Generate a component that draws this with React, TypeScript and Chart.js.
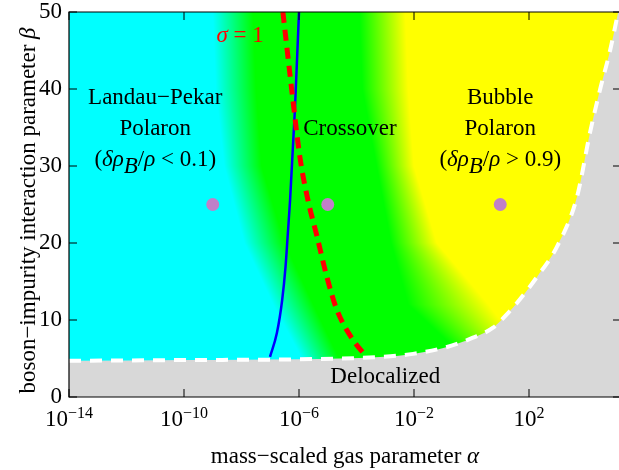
import React, { useEffect, useRef } from 'react';
import { Chart, registerables } from 'chart.js';

Chart.register(...registerables);

// ---------- axes ----------
const X_MIN = 1e-14;
const X_MAX = 158489; // ~10^5.2, right edge of the plot (cut off by the picture edge)
const Y_MIN = 0;
const Y_MAX = 50;
const xTickExponents = [-14, -10, -6, -2, 2];
const yTicks = [0, 10, 20, 30, 40, 50];

// ---------- delocalization boundary (white dashed, grey below) ----------
const boundaryAlpha = [1e-14, 1e-10, 1e-6, 6.6e-4, 9.3e-3, 0.141, 1.12, 5.62, 18.6, 38, 190, 933, 4677, 13183, 29512, 66069, 125893, 316228];
const boundaryBeta = [4.7, 4.8, 4.9, 5.2, 5.6, 6.5, 7.7, 9.0, 10.9, 12.2, 15.6, 19.5, 26.0, 34.3, 39.9, 45.0, 50.0, 58.0];

// ---------- blue solid line ----------
const blueAlpha = [9.8e-8, 1.7e-7, 2.6e-7, 3.4e-7, 4.1e-7, 4.9e-7, 7.2e-7, 1.0e-6];
const blueBeta = [5.2, 8.3, 12.6, 16.9, 21.3, 25.6, 37.3, 50];

// ---------- red dashed line (sigma = 1) ----------
const sigmaAlpha = [2.75e-7, 5.75e-7, 1.07e-6, 2.04e-6, 4.27e-6, 9.3e-6, 2.09e-5, 7.6e-5, 2.0e-4];
const sigmaBeta = [50, 39.5, 31.2, 25.6, 20.8, 15.6, 11.3, 7.4, 5.45];

// ---------- sample points ----------
const pointAlpha = [1e-9, 1e-5, 10];
const pointBeta = [25, 25, 25];

// ---------- colour map contours (delta rho_B / rho) ----------
const contourBeta = [50, 40, 30, 20, 12, 5];
const cyanEndAlpha = [1e-9, 1.26e-9, 2.5e-9, 1.26e-8, 1.26e-7, 1.26e-6];
const greenStartAlpha = [2.5e-8, 3.2e-8, 5e-8, 3.2e-7, 3.2e-6, 2.5e-5];
const greenEndAlpha = [1.26e-4, 1.6e-4, 5e-4, 1.6e-3, 6.3e-3, 0.63];
const yellowStartAlpha = [5e-3, 6.3e-3, 0.01, 0.063, 4, 100];

// ---------- labels ----------
type Seg = { t: string; it?: boolean; sub?: boolean };
const lpLines: Seg[][] = [
  [{ t: 'Landau\u2212Pekar' }],
  [{ t: 'Polaron' }],
  [{ t: '(' }, { t: '\u03b4\u03c1', it: true }, { t: 'B', it: true, sub: true }, { t: '/' }, { t: '\u03c1', it: true }, { t: ' < 0.1)' }],
];
const bubbleLines: Seg[][] = [
  [{ t: 'Bubble' }],
  [{ t: 'Polaron' }],
  [{ t: '(' }, { t: '\u03b4\u03c1', it: true }, { t: 'B', it: true, sub: true }, { t: '/' }, { t: '\u03c1', it: true }, { t: ' > 0.9)' }],
];
const crossoverLines: Seg[][] = [[{ t: 'Crossover' }]];
const delocLines: Seg[][] = [[{ t: 'Delocalized' }]];
const sigmaLines: Seg[][] = [[{ t: '\u03c3', it: true }, { t: ' = 1' }]];

const labelAlpha = [1e-11, 5.9e-5, 10, 1e-3, 8.9e-9];
const labelBeta = [34, 34, 34, 1.8, 46.1];
const labelTexts = [lpLines, crossoverLines, bubbleLines, delocLines, sigmaLines];
const labelColors = ['#000', '#000', '#000', '#000', '#ff0000'];

const xTitle: Seg[] = [{ t: 'mass\u2212scaled gas parameter ' }, { t: '\u03b1', it: true }];
const yTitle: Seg[] = [{ t: 'boson\u2212impurity interaction parameter ' }, { t: '\u03b2', it: true }];

const FONT = "'Liberation Serif', 'Times New Roman', serif";
const FS = 23;

function segFont(s: Seg, size: number) {
  return `${s.it ? 'italic ' : ''}${size}px ${FONT}`;
}
function richWidth(ctx: CanvasRenderingContext2D, segs: Seg[], size: number) {
  let w = 0;
  for (const s of segs) {
    ctx.font = segFont(s, size);
    w += ctx.measureText(s.t).width;
  }
  return w;
}
function drawRich(ctx: CanvasRenderingContext2D, segs: Seg[], cx: number, by: number, size: number, color: string) {
  const w = richWidth(ctx, segs, size);
  let x = cx - w / 2;
  ctx.fillStyle = color;
  ctx.textAlign = 'left';
  ctx.textBaseline = 'alphabetic';
  for (const s of segs) {
    ctx.font = segFont(s, size);
    ctx.fillText(s.t, x, by + (s.sub ? 7 : 0));
    x += ctx.measureText(s.t).width;
  }
}

function interpRow(beta: number, arr: number[]) {
  const la = arr.map((v) => Math.log10(v));
  if (beta >= contourBeta[0]) return la[0];
  const n = contourBeta.length;
  if (beta <= contourBeta[n - 1]) return la[n - 1];
  for (let k = 0; k < n - 1; k++) {
    const b0 = contourBeta[k], b1 = contourBeta[k + 1];
    if (beta <= b0 && beta >= b1) {
      const t = (b0 - beta) / (b0 - b1);
      return la[k] + t * (la[k + 1] - la[k]);
    }
  }
  return la[n - 1];
}

const phasePlugin = {
  id: 'phase',
  beforeDatasetsDraw(chart: any) {
    const { ctx, chartArea } = chart;
    const { left, top, right, bottom } = chartArea;
    const w = Math.round(right - left), h = Math.round(bottom - top);
    const off = document.createElement('canvas');
    off.width = w;
    off.height = h;
    const octx = off.getContext('2d')!;
    const img = octx.createImageData(w, h);
    const xs = chart.scales.x, ys = chart.scales.y;
    const lx = new Float64Array(w);
    for (let i = 0; i < w; i++) lx[i] = Math.log10(xs.getValueForPixel(left + i + 0.5));
    for (let j = 0; j < h; j++) {
      const b = ys.getValueForPixel(top + j + 0.5);
      const c1 = interpRow(b, cyanEndAlpha);
      const c2 = interpRow(b, greenStartAlpha);
      const c3 = interpRow(b, greenEndAlpha);
      const c4 = interpRow(b, yellowStartAlpha);
      for (let i = 0; i < w; i++) {
        const a = lx[i];
        let r = 0, bl = 255;
        if (a <= c1) { r = 0; bl = 255; }
        else if (a < c2) { const t = (a - c1) / (c2 - c1); r = 0; bl = 255 * (1 - t); }
        else if (a <= c3) { r = 0; bl = 0; }
        else if (a < c4) { const t = (a - c3) / (c4 - c3); r = 255 * t; bl = 0; }
        else { r = 255; bl = 0; }
        const p = (j * w + i) * 4;
        img.data[p] = r;
        img.data[p + 1] = 255;
        img.data[p + 2] = bl;
        img.data[p + 3] = 255;
      }
    }
    octx.putImageData(img, 0, 0);
    ctx.save();
    ctx.drawImage(off, left, top);
    ctx.restore();
  },
  afterDatasetsDraw(chart: any) {
    const { ctx, chartArea } = chart;
    const { left, top, right, bottom } = chartArea;
    const xs = chart.scales.x, ys = chart.scales.y;
    ctx.save();
    // region labels
    labelTexts.forEach((lines, k) => {
      const cx = xs.getPixelForValue(labelAlpha[k]);
      const cy = ys.getPixelForValue(labelBeta[k]);
      const n = lines.length;
      lines.forEach((segs, li) => {
        const by = cy + (li - (n - 1) / 2) * 31;
        drawRich(ctx, segs, cx, by, FS, labelColors[k]);
      });
    });
    // frame
    ctx.strokeStyle = '#000';
    ctx.lineWidth = 1.2;
    ctx.beginPath();
    ctx.moveTo(left, top);
    ctx.lineTo(right, top);
    ctx.lineTo(right, bottom);
    ctx.lineTo(left, bottom);
    ctx.closePath();
    ctx.stroke();
    // ticks (inward)
    ctx.lineWidth = 1;
    ctx.beginPath();
    xTickExponents.forEach((e) => {
      const x = xs.getPixelForValue(Math.pow(10, e));
      ctx.moveTo(x, bottom);
      ctx.lineTo(x, bottom - 8);
      ctx.moveTo(x, top);
      ctx.lineTo(x, top + 8);
    });
    yTicks.forEach((v) => {
      const y = ys.getPixelForValue(v);
      ctx.moveTo(left, y);
      ctx.lineTo(left + 8, y);
      ctx.moveTo(right, y);
      ctx.lineTo(right - 8, y);
    });
    ctx.stroke();
    // x tick labels 10^n
    ctx.fillStyle = '#000';
    ctx.textBaseline = 'alphabetic';
    ctx.textAlign = 'left';
    xTickExponents.forEach((e) => {
      const x = xs.getPixelForValue(Math.pow(10, e));
      ctx.font = `${FS}px ${FONT}`;
      const wb = ctx.measureText('10').width;
      const ex = e < 0 ? '\u2212' + Math.abs(e) : String(e);
      ctx.font = `16px ${FONT}`;
      const we = ctx.measureText(ex).width;
      const x0 = x - (wb + we) / 2;
      ctx.font = `${FS}px ${FONT}`;
      ctx.fillText('10', x0, bottom + 29);
      ctx.font = `16px ${FONT}`;
      ctx.fillText(ex, x0 + wb, bottom + 21);
    });
    // y tick labels
    ctx.font = `${FS}px ${FONT}`;
    ctx.textAlign = 'right';
    ctx.textBaseline = 'middle';
    yTicks.forEach((v) => {
      ctx.fillText(String(v), left - 7, ys.getPixelForValue(v));
    });
    // axis titles
    drawRich(ctx, xTitle, (left + right) / 2, bottom + 66, FS, '#000');
    ctx.translate(35, (top + bottom) / 2 + 6);
    ctx.rotate(-Math.PI / 2);
    drawRich(ctx, yTitle, 0, 0, FS, '#000');
    ctx.restore();
  },
};

export default function App() {
  const ref = useRef<HTMLCanvasElement>(null);
  useEffect(() => {
    if (!ref.current) return;
    const chart = new Chart(ref.current, {
      type: 'scatter',
      data: {
        datasets: [
          {
            label: 'samples',
            data: pointAlpha.map((a, i) => ({ x: a, y: pointBeta[i] })),
            pointRadius: 6.5,
            pointBackgroundColor: 'rgb(192,128,200)',
            pointBorderWidth: 0,
            showLine: false,
            order: 1,
          },
          {
            label: 'sigma = 1',
            data: sigmaAlpha.map((a, i) => ({ x: a, y: sigmaBeta[i] })),
            showLine: true,
            borderColor: '#ff0000',
            borderWidth: 5,
            borderDash: [11, 7],
            pointRadius: 0,
            cubicInterpolationMode: 'monotone',
            fill: false,
            clip: 0,
            order: 2,
          },
          {
            label: 'blue',
            data: blueAlpha.map((a, i) => ({ x: a, y: blueBeta[i] })),
            showLine: true,
            borderColor: '#0000ff',
            borderWidth: 2.5,
            pointRadius: 0,
            cubicInterpolationMode: 'monotone',
            fill: false,
            clip: 0,
            order: 3,
          },
          {
            label: 'boundary',
            data: boundaryAlpha.map((a, i) => ({ x: a, y: boundaryBeta[i] })),
            showLine: true,
            borderColor: '#ffffff',
            borderWidth: 4,
            borderDash: [12, 9],
            backgroundColor: 'rgb(216,216,216)',
            pointRadius: 0,
            cubicInterpolationMode: 'monotone',
            fill: 'start',
            clip: 0,
            order: 4,
          },
        ],
      },
      options: {
        animation: false,
        responsive: false,
        events: [],
        layout: { padding: { left: 69, top: 12, right: 7, bottom: 73 } },
        plugins: { legend: { display: false }, tooltip: { enabled: false } },
        scales: {
          x: { type: 'logarithmic', min: X_MIN, max: X_MAX, display: false },
          y: { type: 'linear', min: Y_MIN, max: Y_MAX, display: false },
        },
      },
      plugins: [phasePlugin],
    } as any);
    return () => chart.destroy();
  }, []);
  return (
    <div style={{ position: 'absolute', left: 0, top: 0, width: 619, height: 470, overflow: 'hidden' }}>
      <canvas ref={ref} width={628} height={470} style={{ display: 'block' }} />
    </div>
  );
}
